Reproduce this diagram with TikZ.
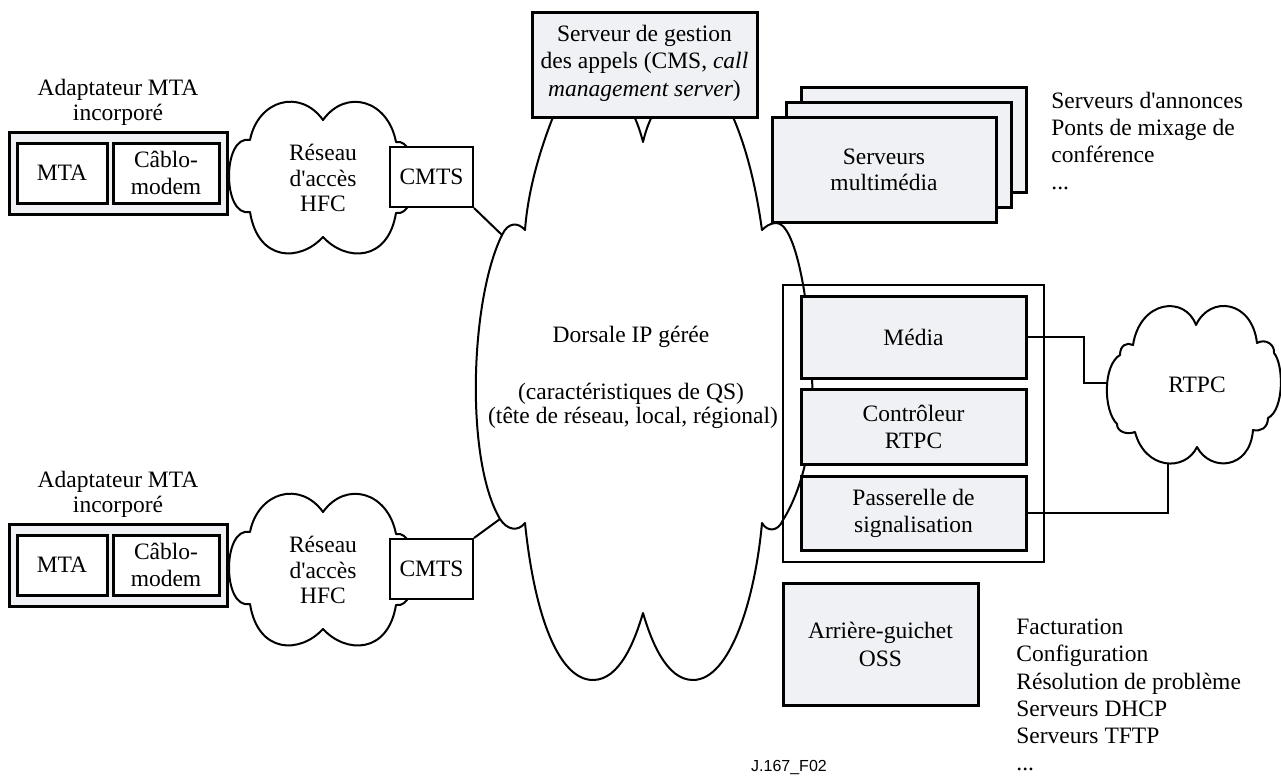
\documentclass[tikz,border=0pt]{standalone}
\usepackage{fontspec}
\newfontfamily\mainserif{Liberation Serif}
\newfontfamily\labelsans{Liberation Sans}
\definecolor{boxgray}{RGB}{240,241,244}
\begin{document}
\begin{tikzpicture}[x=0.5pt,y=-0.5pt,
  every node/.style={font=\mainserif\fontsize{11.75}{13.75}\selectfont, inner sep=0pt, align=center},
  gbox/.style={draw, fill=boxgray, line width=1.5pt},
  wbox/.style={draw, fill=white, line width=1.5pt},
  cmtsbox/.style={draw, fill=white, line width=1pt},
  cloudline/.style={draw, fill=white, line width=1pt, line join=round},
  conn/.style={line width=1pt},
  fs/.style={font=\mainserif\fontsize{11.75}{#1}\selectfont}
]
\useasboundingbox (0,0) rectangle (1281,776);

% ---------- main backbone cloud ----------
\draw[cloudline] (643,142) .. controls (625,70) and (575,60) .. (553,117)
 .. controls (540,150) and (528,190) .. (525,230)
 .. controls (518,222) and (508,222) .. (502,235) coordinate (bbA)
 .. controls (470,300) and (465,460) .. (500,519) coordinate (bbB)
 .. controls (507,530) and (518,532) .. (525,523)
 .. controls (535,620) and (560,680) .. (593,680)
 .. controls (620,680) and (635,640) .. (643,613)
 .. controls (651,640) and (666,680) .. (693,680)
 .. controls (730,680) and (755,600) .. (762,523)
 .. controls (767,532) and (778,532) .. (783,520)
 .. controls (808,480) and (815,420) .. (812,380)
 .. controls (810,300) and (795,222) .. (776,223)
 .. controls (770,223) and (765,227) .. (762,230)
 .. controls (755,180) and (745,145) .. (733,117)
 .. controls (715,70) and (660,70) .. (643,142) -- cycle;

\node (bbt1) at (631,337) {Dorsale IP gérée};
\node (bbt2) at (631,394) {(caractéristiques de QS)};
\node (bbt3) at (633,418) {(tête de réseau, local, régional)};

% ---------- two access groups ----------
\foreach \s/\n in {0/A,392/B}{
\begin{scope}[shift={(0,\s)}]
  \draw[cloudline] (250,140) .. controls (258,100) and (300,88) .. (323,120)
   .. controls (346,88) and (388,100) .. (396,142)
   .. controls (420,137) and (420,218) .. (396,213)
   .. controls (388,262) and (346,262) .. (323,237)
   .. controls (300,262) and (258,262) .. (250,212)
   .. controls (222,218) and (222,134) .. (250,140) -- cycle;
  \node[fs=12.75pt] (hfc\n) at (323,178) {Réseau\\d'accès\\HFC};
  \node[gbox, minimum width=109pt, minimum height=41pt] (mta\n) at (118,173) {};
  \node[wbox, minimum width=45pt, minimum height=30pt] (mtai\n) at (62,173) {MTA};
  \node[wbox, minimum width=53pt, minimum height=30pt, fs=13.5pt] (cm\n) at (166,173) {Câblo-\\modem};
  \node[fs=12.5pt] (lab\n) at (118,102) {Adaptateur MTA\\incorporé};
  \node[cmtsbox, minimum width=41.5pt, minimum height=30pt] (cmts\n) at (431.5,177) {CMTS};
\end{scope}
}

\draw[conn] (cmtsA.south east) -- (bbA);
\draw[conn] (cmtsB.north east) -- (bbB);

% ---------- call management server ----------
\node[gbox, minimum width=112.5pt, minimum height=52.5pt] (cms) at (644.5,64.5) {};
\node (cmst) at (644.5,63) {Serveur de gestion\\des appels (CMS, \textit{call}\\\textit{management server})};

% ---------- multimedia servers ----------
\node[gbox, minimum width=112.5pt, minimum height=52.5pt] (mmC) at (913.5,139.5) {};
\node[gbox, minimum width=112.5pt, minimum height=52.5pt] (mmB) at (898.5,154.5) {};
\node[gbox, minimum width=112pt, minimum height=52.5pt, fs=13pt] (mmA) at (884,169.5) {Serveurs\\multimédia};
\node[anchor=west, align=left, fs=13.4pt] (listA) at (1051,141) {Serveurs d'annonces\\Ponts de mixage de\\conférence\\...};

% ---------- gateway ----------
\node[draw, line width=1pt, minimum width=130.5pt, minimum height=138.5pt] (gw) at (913.5,423.5) {};
\node[gbox, minimum width=112.5pt, minimum height=41pt] (media) at (913.5,337) {Média};
\node[gbox, minimum width=112.5pt, minimum height=37.5pt, fs=13.5pt] (ctrl) at (913.5,426.5) {Contrôleur\\RTPC};
\node[gbox, minimum width=112.5pt, minimum height=37pt, fs=13.5pt] (pass) at (913.5,513) {Passerelle de\\signalisation};

% ---------- PSTN cloud ----------
\draw[cloudline] (1133,345) .. controls (1140,300) and (1185,295) .. (1196,325)
 .. controls (1210,295) and (1252,300) .. (1257,343)
 .. controls (1266,338) and (1275,345) .. (1274,353)
 .. controls (1284,365) and (1284,410) .. (1268,418)
 .. controls (1268,428) and (1260,432) .. (1253,430)
 .. controls (1250,470) and (1210,472) .. (1197,447)
 .. controls (1185,472) and (1145,470) .. (1135,432)
 .. controls (1127,435) and (1117,432) .. (1117,424)
 .. controls (1103,410) and (1103,365) .. (1120,355)
 .. controls (1120,345) and (1127,342) .. (1133,345) -- cycle;
\coordinate (rtpcW) at (1108,383);
\coordinate (rtpcS) at (1168,463);
\node (rtpc) at (1197,385) {RTPC};

\draw[conn] (media.east) -- ++(56,0) |- (rtpcW);
\draw[conn] (pass.east) -| (rtpcS);

% ---------- OSS ----------
\node[gbox, minimum width=97.5pt, minimum height=61pt, fs=14pt] (oss) at (880.5,644) {Arrière-guichet\\OSS};
\node[anchor=west, align=left, fs=13.6pt] (listB) at (1016,695) {Facturation\\Configuration\\Résolution de problème\\Serveurs DHCP\\Serveurs TFTP\\...};

\node[font=\labelsans\fontsize{8}{9}\selectfont] (figid) at (789,767) {J.167\_F02};
\end{tikzpicture}
\end{document}
